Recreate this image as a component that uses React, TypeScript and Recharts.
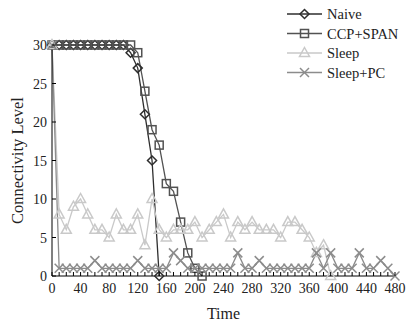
import { LineChart, Line, XAxis, YAxis, Legend } from 'recharts'

const times = [
  0, 10, 20, 30, 40, 50, 60, 70, 80, 90, 100, 110, 120, 130, 140, 150, 160, 170, 180, 190,
  200, 210, 220, 230, 240, 250, 260, 270, 280, 290, 300, 310, 320, 330, 340, 350, 360, 370,
  380, 390, 400, 410, 420, 430, 440, 450, 460, 470, 480,
]
const xLabels = [0, 40, 80, 120, 160, 200, 240, 280, 320, 360, 400, 440, 480]
const yTicks = [0, 5, 10, 15, 20, 25, 30]

const naive = [30, 30, 30, 30, 30, 30, 30, 30, 30, 30, 30, 29, 27, 21, 15, 0]
const ccpSpan = [30, 30, 30, 30, 30, 30, 30, 30, 30, 30, 30, 30, 29, 24, 19, 17, 12, 11, 7, 3, 1, 0]
const sleep = [
  30, 8, 6, 9, 10, 8, 6, 6, 5, 8, 6, 6, 8, 4, 10, 6, 5, 6, 6, 6, 7, 5, 6, 7, 8, 5, 7, 6, 7, 6,
  6, 6, 5, 7, 7, 6, 5, 3, 4, 0,
]
const sleepPc = [
  30, 1, 1, 1, 1, 1, 2, 1, 1, 1, 1, 1, 2, 1, 1, 1, 1, 3, 2, 1, 1, 1, 1, 1, 1, 1, 3, 1, 1, 2,
  1, 1, 1, 1, 1, 1, 1, 3, 1, 3, 1, 1, 1, 3, 1, 1, 2, 1, 0,
]

const FONT = '"Liberation Serif", "Times New Roman", serif'

type Shape = 'diamond' | 'square' | 'triangle' | 'cross'

const series: { key: string; name: string; color: string; shape: Shape; values: number[] }[] = [
  { key: 'naive', name: 'Naive', color: '#2e2e2e', shape: 'diamond', values: naive },
  { key: 'ccp', name: 'CCP+SPAN', color: '#525252', shape: 'square', values: ccpSpan },
  { key: 'sleep', name: 'Sleep', color: '#c9c9c9', shape: 'triangle', values: sleep },
  { key: 'sleepPc', name: 'Sleep+PC', color: '#8c8c8c', shape: 'cross', values: sleepPc },
]

const data = times.map((t, i) => {
  const row: Record<string, number | null> = { t }
  series.forEach((s) => {
    row[s.key] = i < s.values.length ? s.values[i] : null
  })
  return row
})

function Marker({ shape, cx, cy, color }: { shape: Shape; cx: number; cy: number; color: string }) {
  const sw = 1.5
  if (shape === 'diamond') {
    const r = 4.5
    return (
      <polygon
        points={`${cx},${cy - r} ${cx + r},${cy} ${cx},${cy + r} ${cx - r},${cy}`}
        fill="none" stroke={color} strokeWidth={sw}
      />
    )
  }
  if (shape === 'square') {
    return <rect x={cx - 4} y={cy - 4} width={8} height={8} fill="none" stroke={color} strokeWidth={sw} />
  }
  if (shape === 'triangle') {
    return (
      <polygon
        points={`${cx},${cy - 5.5} ${cx + 5},${cy + 3.5} ${cx - 5},${cy + 3.5}`}
        fill="none" stroke={color} strokeWidth={sw}
      />
    )
  }
  return (
    <g stroke={color} strokeWidth={sw}>
      <line x1={cx - 4.5} y1={cy - 4.5} x2={cx + 4.5} y2={cy + 4.5} />
      <line x1={cx - 4.5} y1={cy + 4.5} x2={cx + 4.5} y2={cy - 4.5} />
    </g>
  )
}

const makeDot = (shape: Shape, color: string) => (p: any) => {
  if (p.value == null || p.cy == null) return <g key={p.index} />
  return (
    <g key={p.index}>
      <Marker shape={shape} cx={p.cx} cy={p.cy} color={color} />
    </g>
  )
}

const XTick = (p: any) => {
  const v = p.payload.value
  const labelled = xLabels.includes(v)
  return (
    <g>
      <line x1={p.x} y1={p.y} x2={p.x} y2={p.y - 4} stroke="#000" />
      {labelled && (
        <text x={p.x} y={p.y + 17} textAnchor="middle" fontSize={14} fontFamily={FONT} fill="#222">
          {v}
        </text>
      )}
    </g>
  )
}

const YTick = (p: any) => (
  <g>
    <line x1={p.x} y1={p.y} x2={p.x + 4} y2={p.y} stroke="#000" />
    <text x={p.x - 5} y={p.y + 5} textAnchor="end" fontSize={14} fontFamily={FONT} fill="#222">
      {p.payload.value}
    </text>
  </g>
)

const LegendBox = () => (
  <svg width={120} height={80}>
    {series.map((s, i) => {
      const y = 10 + i * 19.5
      return (
        <g key={s.key}>
          <line x1={2} x2={37} y1={y} y2={y} stroke={s.color} strokeWidth={1.5} />
          <Marker shape={s.shape} cx={19.5} cy={y} color={s.color} />
          <text x={42} y={y + 5} fontSize={14.5} fontFamily={FONT} fill="#222">
            {s.name}
          </text>
        </g>
      )
    })}
  </svg>
)

export default function App() {
  return (
    <div style={{ position: 'absolute', left: 0, top: 0, width: 406, height: 324, background: '#fff' }}>
      <LineChart width={406} height={324} data={data} margin={{ top: 45, right: 11, left: 0, bottom: 0 }}>
        <XAxis
          dataKey="t"
          type="number"
          domain={[0, 480]}
          ticks={times}
          interval={0}
          tickSize={0}
          tickMargin={0}
          height={48}
          axisLine={{ stroke: '#000' }}
          tickLine={false}
          tick={XTick}
          label={{ value: 'Time', position: 'insideBottom', offset: 5, fill: '#222', fontSize: 16, fontFamily: FONT }}
        />
        <YAxis
          type="number"
          domain={[0, 30]}
          ticks={yTicks}
          interval={0}
          tickSize={0}
          tickMargin={0}
          width={52}
          axisLine={{ stroke: '#000' }}
          tickLine={false}
          tick={YTick}
          label={{
            content: (lp: any) => {
              const vb = lp.viewBox
              const cx = vb.x + 17
              const cy = vb.y + vb.height / 2
              return (
                <text
                  x={cx} y={cy} transform={`rotate(-90 ${cx} ${cy})`} textAnchor="middle"
                  dominantBaseline="central" fontSize={16.5} fontFamily={FONT} fill="#222"
                >
                  Connectivity Level
                </text>
              )
            },
          }}
        />
        <Legend
          layout="vertical"
          align="center"
          verticalAlign="middle"
          content={LegendBox}
          wrapperStyle={{ position: 'absolute', left: 285, top: 4, width: 120 }}
        />
        {series.map((s) => (
          <Line
            key={s.key}
            dataKey={s.key}
            name={s.name}
            type="linear"
            stroke={s.color}
            strokeWidth={1.3}
            dot={makeDot(s.shape, s.color)}
            activeDot={false}
            isAnimationActive={false}
          />
        ))}
      </LineChart>
    </div>
  )
}
